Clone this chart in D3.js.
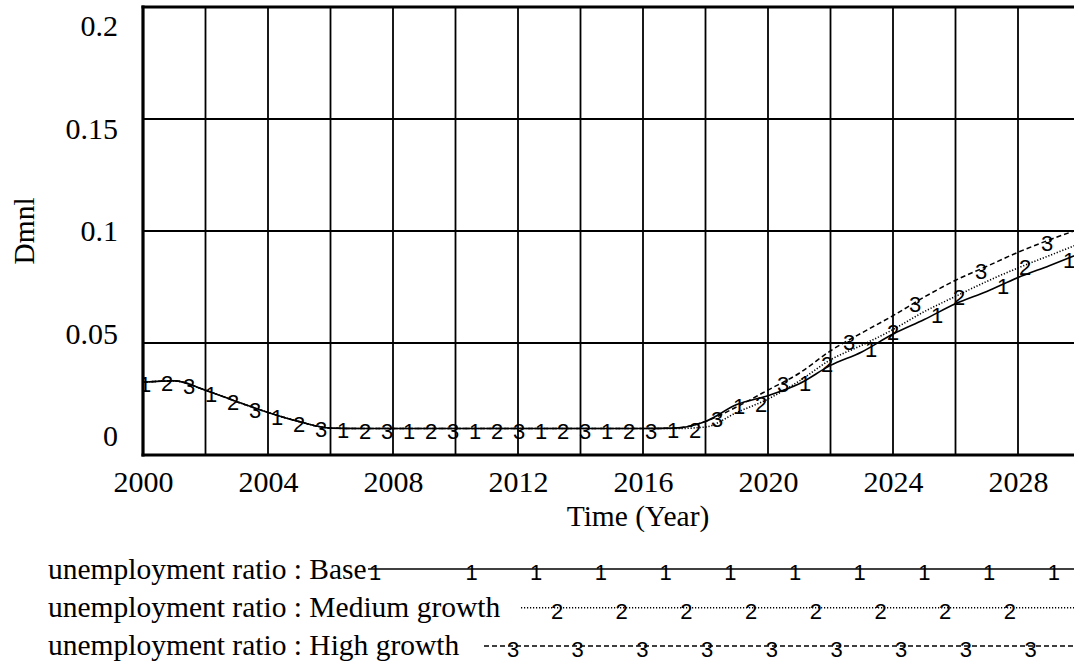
<!DOCTYPE html>
<html><head><meta charset="utf-8">
<script src="https://cdn.jsdelivr.net/npm/d3@7"></script>
<style>html,body{margin:0;padding:0;background:#fff;overflow:hidden}</style>
</head><body><svg id="c" width="1074" height="668"></svg>
<script>
// ---------- data ----------
const years = [2000,2001,2002,2003,2004,2005,2006,2007,2008,2009,2010,2011,2012,2013,2014,2015,
               2016,2017,2018,2019,2020,2021,2022,2023,2024,2025,2026,2027,2028,2029,2030];
const base   = [0.0325,0.0331,0.0289,0.0238,0.0190,0.0149,0.0120,0.0118,0.0118,0.0118,0.0118,0.0118,0.0118,0.0118,0.0118,0.0118,
                0.0118,0.0120,0.0150,0.0225,0.0265,0.0318,0.0400,0.0460,0.0540,0.0605,0.0675,0.0730,0.0792,0.0845,0.0900];
const medium = [0.0325,0.0331,0.0289,0.0238,0.0190,0.0149,0.0120,0.0118,0.0118,0.0118,0.0118,0.0118,0.0118,0.0118,0.0118,0.0118,
                0.0118,0.0118,0.0125,0.0190,0.0250,0.0330,0.0425,0.0490,0.0560,0.0640,0.0708,0.0775,0.0835,0.0890,0.0945];
const high   = [0.0325,0.0331,0.0289,0.0238,0.0190,0.0149,0.0120,0.0118,0.0118,0.0118,0.0118,0.0118,0.0118,0.0118,0.0118,0.0118,
                0.0118,0.0120,0.0150,0.0215,0.0290,0.0365,0.0465,0.0545,0.0622,0.0705,0.0780,0.0842,0.0905,0.0960,0.1010];
const seriesNames = ["unemployment ratio : Base","unemployment ratio : Medium growth","unemployment ratio : High growth"];
const seriesMarks = ["1","2","3"];
const xTicks = [2000,2004,2008,2012,2016,2020,2024,2028];
const xGrid  = [2002,2004,2006,2008,2010,2012,2014,2016,2018,2020,2022,2024,2026,2028];
const yTicks = [0,0.05,0.1,0.15,0.2];
const yTickLabels = ["0","0.05","0.1","0.15","0.2"];
const yGrid = [0.05,0.1,0.15];
const xTitle = "Time (Year)";
const yTitle = "Dmnl";

// ---------- layout ----------
const W = 1074, H = 668;
const svg = d3.select("#c");
const x = d3.scaleLinear().domain([2000,2030]).range([143,1080.5]);
const y = d3.scaleLinear().domain([0,0.2]).range([455,7]);
const yLab = d3.scaleLinear().domain([0,0.2]).range([436,26]); // spread label centres
const serif = "'Liberation Serif','Times New Roman',Times,serif";
const sans = "'Liberation Sans',Arial,Helvetica,sans-serif";
const styles = [
  {dash:null, w:1.6},
  {dash:"1.2,1.8", w:1.6},
  {dash:"5,3", w:1.5}
];
const allSeries = [base, medium, high];

// clip
svg.append("defs").append("clipPath").attr("id","pc")
  .append("rect").attr("x",x(2000)).attr("y",0).attr("width",x(2030)-x(2000)).attr("height",y(0));

// grid
const g = svg.append("g");
g.selectAll("line.vg").data(xGrid).join("line")
  .attr("x1",d=>x(d)).attr("x2",d=>x(d)).attr("y1",y(0.2)).attr("y2",y(0))
  .attr("stroke","#000").attr("stroke-width",1.8);
g.selectAll("line.hg").data(yGrid).join("line")
  .attr("x1",x(2000)).attr("x2",W).attr("y1",d=>y(d)).attr("y2",d=>y(d))
  .attr("stroke","#000").attr("stroke-width",1.8);

// series lines
const line = d3.line().x(d=>x(d.t)).y(d=>y(d.v)).curve(d3.curveMonotoneX);
const plot = svg.append("g").attr("clip-path","url(#pc)");
const paths = allSeries.map((vals,i)=>{
  const pts = years.map((t,j)=>({t, v: vals[j]}));
  return plot.append("path").datum(pts).attr("d",line)
    .attr("fill","none").attr("stroke","#000").attr("stroke-width",styles[i].w)
    .attr("stroke-dasharray",styles[i].dash);
});

// locate a point on a path at a given x
function pointAtX(node, px){
  const L = node.getTotalLength();
  let lo=0, hi=L;
  for(let k=0;k<40;k++){
    const mid=(lo+hi)/2;
    if(node.getPointAtLength(mid).x < px) lo=mid; else hi=mid;
  }
  return node.getPointAtLength((lo+hi)/2);
}

// series marker labels (cyclic 1,2,3 along the curves)
const markStart = 2000.064, markPeriod = 2.112, markOffset = 0.704;
allSeries.forEach((vals,i)=>{
  const node = paths[i].node();
  for(let k=0;;k++){
    const t = markStart + i*markOffset + k*markPeriod;
    const px = x(t);
    if(px > W) break;
    const p = pointAtX(node, px);
    plot.append("text").attr("x",px).attr("y",p.y+10)
      .attr("text-anchor","middle").attr("font-family",sans).attr("font-size",22)
      .text(seriesMarks[i]);
  }
});

// frame
svg.append("line").attr("x1",x(2000)).attr("x2",x(2000)).attr("y1",y(0.2)-1.5).attr("y2",y(0)+1.5)
  .attr("stroke","#000").attr("stroke-width",3.2);
svg.append("line").attr("x1",x(2000)-1.5).attr("x2",W).attr("y1",y(0.2)).attr("y2",y(0.2))
  .attr("stroke","#000").attr("stroke-width",3.2);
svg.append("line").attr("x1",x(2000)-1.5).attr("x2",W).attr("y1",y(0)).attr("y2",y(0))
  .attr("stroke","#000").attr("stroke-width",3.2);

// x axis labels
const xa = svg.append("g").attr("transform",`translate(0,${y(0)})`)
  .call(d3.axisBottom(x).tickValues(xTicks).tickSize(0).tickPadding(0).tickFormat(d3.format("d")));
xa.select(".domain").remove();
xa.selectAll("text").attr("y",37).attr("dy",null)
  .attr("font-family",serif).attr("font-size",30).attr("fill","#000");

// y axis labels
const ya = svg.append("g").attr("transform",`translate(118,0)`)
  .call(d3.axisLeft(y).tickValues(yTicks).tickSize(0).tickPadding(0).tickFormat((d,i)=>yTickLabels[i]));
ya.select(".domain").remove();
ya.selectAll(".tick").attr("transform",d=>`translate(0,${yLab(d)})`);
ya.selectAll("text").attr("x",0).attr("y",10.3).attr("dy",null)
  .attr("font-family",serif).attr("font-size",30).attr("fill","#000");

// titles
svg.append("text").attr("x",638).attr("y",526).attr("text-anchor","middle")
  .attr("font-family",serif).attr("font-size",29.5).text(xTitle);
svg.append("text").attr("transform",`translate(34,${(y(0)+y(0.2))/2}) rotate(-90)`)
  .attr("text-anchor","middle").attr("font-family",serif).attr("font-size",29.5).text(yTitle);

// legend
const legRows = [
  {tx:48, base:579, ly:569, start:368, first:[7], phase:103.5},
  {tx:48, base:617, ly:607.7, start:521, first:[], phase:36},
  {tx:48, base:655, ly:646, start:484, first:[], phase:29}
];
const legPeriod = 64.7;
legRows.forEach((r,i)=>{
  svg.append("text").attr("x",r.tx).attr("y",r.base)
    .attr("font-family",serif).attr("font-size",29.5).text(seriesNames[i]);
  svg.append("line").attr("x1",r.start).attr("x2",W).attr("y1",r.ly).attr("y2",r.ly)
    .attr("stroke","#000").attr("stroke-width",styles[i].w).attr("stroke-dasharray",styles[i].dash);
  const xs = r.first.map(o=>r.start+o);
  for(let px=r.start+r.phase; px<W-12; px+=legPeriod) xs.push(px);
  xs.forEach(px=>{
    svg.append("text").attr("x",px).attr("y",r.ly+11).attr("text-anchor","middle")
      .attr("font-family",sans).attr("font-size",22).text(seriesMarks[i]);
  });
});
</script></body></html>
